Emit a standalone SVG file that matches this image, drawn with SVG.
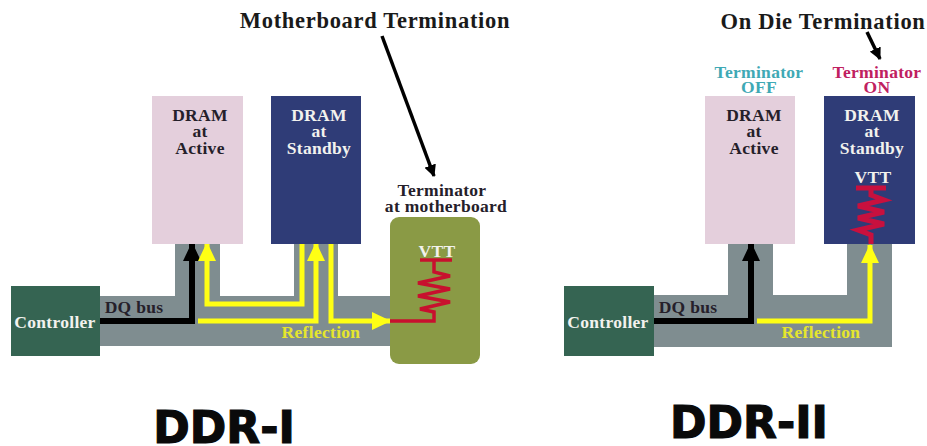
<svg xmlns="http://www.w3.org/2000/svg" width="927" height="446" viewBox="0 0 927 446">
<style>
text{font-family:"Liberation Serif",serif;font-weight:bold;text-anchor:middle}
.t{font-size:22.5px;letter-spacing:.7px;fill:#1a1a1a}
.n{font-size:17.5px;letter-spacing:.3px}
.big{font-family:"DejaVu Sans",sans-serif;font-size:44px;fill:#0a0a0a;stroke:#0a0a0a;stroke-width:1.2px}
.w{fill:#f2f2ee}.d{fill:#25202a}.y{fill:#e6e62c}
.pink{fill:#e4cfdc}.blue{fill:#2f3c77}.ctl{fill:#356452}.bus{fill:#7f8d90}
.ln{fill:none;stroke-linejoin:miter}
.bk{stroke:#000;stroke-width:6}.yl{stroke:#ffff14;stroke-width:5}.rd{stroke:#c8102e;stroke-width:3.5}
</style>
<defs>
<marker id="ab" markerUnits="userSpaceOnUse" markerWidth="19" markerHeight="20" refX="18" refY="10" orient="auto"><path d="M0 1L19 10L0 19Z" fill="#000"/></marker>
<marker id="ay" markerUnits="userSpaceOnUse" markerWidth="19" markerHeight="20" refX="18" refY="10" orient="auto"><path d="M0 1L19 10L0 19Z" fill="#ffff14"/></marker>
<marker id="at" markerUnits="userSpaceOnUse" markerWidth="12" markerHeight="12" refX="11" refY="6" orient="auto"><path d="M0 0L12 6L0 12Z" fill="#000"/></marker>
</defs>
<g id="connectors">
<path class="bus" d="M100 296H175V244H220V296H294V244H338V296H390V346H100Z"/>
<path class="bus" d="M654 295H728V244H773V295H847V244H892V347H654Z"/>
<path class="ln bk" d="M100 321H192V243" marker-end="url(#ab)"/>
<path class="ln yl" d="M302 244V304H207V243" marker-end="url(#ay)"/>
<path class="ln yl" d="M198 321H316V243" marker-end="url(#ay)"/>
<path class="ln yl" d="M331 244V321H390" marker-end="url(#ay)"/>
<path class="ln bk" d="M654 321H751V243" marker-end="url(#ab)"/>
<path class="ln yl" d="M757 321H870V245" marker-end="url(#ay)"/>
<path class="ln" stroke="#000" stroke-width="3.5" d="M382 36L434 176" marker-end="url(#at)"/>
<path class="ln" stroke="#000" stroke-width="3.5" d="M867 32L880 59" marker-end="url(#at)"/>
</g>
<g id="title-left"><text class="t" x="375" y="28">Motherboard Termination</text></g>
<g id="title-right"><text class="t" x="823" y="29">On Die Termination</text></g>
<g id="dram-active-1"><rect class="pink" x="152" y="96" width="91" height="148"/><text class="n d" x="200" y="121">DRAM</text><text class="n d" x="200" y="137">at</text><text class="n d" x="200" y="154">Active</text></g>
<g id="dram-standby-1"><rect class="blue" x="271" y="96" width="90" height="148"/><text class="n w" x="319" y="121">DRAM</text><text class="n w" x="319" y="137">at</text><text class="n w" x="319" y="154">Standby</text></g>
<g id="controller-1"><rect class="ctl" x="11" y="286" width="89" height="70"/><text class="n w" x="55" y="328">Controller</text></g>
<g id="label-dq-1"><text class="n d" x="134" y="313">DQ bus</text></g>
<g id="label-reflection-1"><text class="n y" x="321" y="338">Reflection</text></g>
<g id="terminator-mb">
<text class="n d" x="442" y="196">Terminator</text><text class="n d" x="446" y="212">at motherboard</text>
<rect x="390" y="217" width="90" height="147" rx="9" fill="#8a9a45"/>
<text class="n w" x="437" y="257">VTT</text>
<path class="ln rd" d="M420 260H452M434 260V272L450 276L418 283L450 289L418 296L450 302L420 309L434 312V321H390"/>
</g>
<g id="label-term-off"><text class="n" fill="#3fa9b5" x="759" y="78">Terminator</text><text class="n" fill="#3fa9b5" x="759" y="93">OFF</text></g>
<g id="label-term-on"><text class="n" fill="#c0205f" x="877" y="78">Terminator</text><text class="n" fill="#c0205f" x="877" y="93">ON</text></g>
<g id="dram-active-2"><rect class="pink" x="705" y="96" width="90" height="148"/><text class="n d" x="754" y="121">DRAM</text><text class="n d" x="754" y="137">at</text><text class="n d" x="754" y="154">Active</text></g>
<g id="dram-standby-2"><rect class="blue" x="824" y="96" width="91" height="148"/><text class="n w" x="872" y="121">DRAM</text><text class="n w" x="872" y="137">at</text><text class="n w" x="872" y="154">Standby</text>
<text class="n w" x="873" y="183">VTT</text>
<path class="ln" stroke="#c8103e" stroke-width="5" d="M856 188H886M871 188V195L884 200L858 206L884 212L858 218L884 224L858 230L871 235V244"/></g>
<g id="controller-2"><rect class="ctl" x="564" y="286" width="90" height="70"/><text class="n w" x="608" y="328">Controller</text></g>
<g id="label-dq-2"><text class="n d" x="688" y="313">DQ bus</text></g>
<g id="label-reflection-2"><text class="n y" x="821" y="338">Reflection</text></g>
<g id="caption-1"><text class="big" x="224" y="443">DDR-I</text></g>
<g id="caption-2"><text class="big" x="749" y="438">DDR-II</text></g>
</svg>
